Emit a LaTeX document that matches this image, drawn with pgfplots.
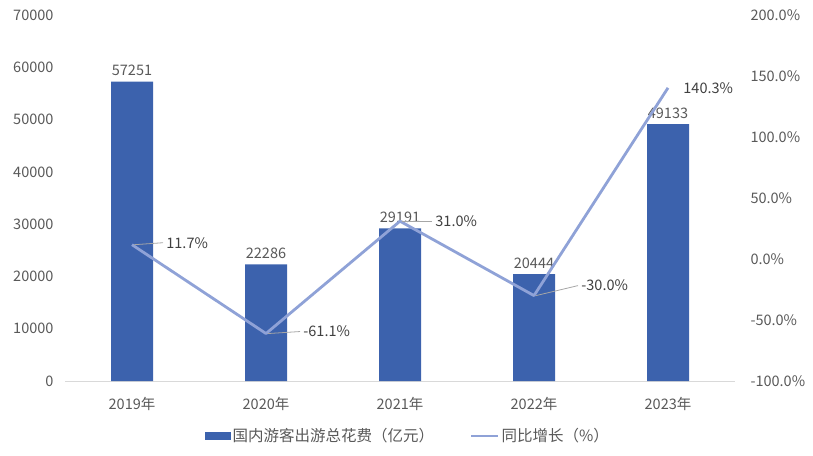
\documentclass[border=0pt]{standalone}
\usepackage{fontspec}
\setmainfont{Noto Sans CJK SC}
\usepackage{pgfplots}
\pgfplotsset{compat=1.18}
\usepackage{pgfplotstable}
\definecolor{barblue}{HTML}{3C62AD}
\definecolor{lineblue}{HTML}{8FA2D7}
\definecolor{txt}{HTML}{595959}
\definecolor{axisgray}{HTML}{D9D9D9}
\definecolor{leader}{HTML}{A6A6A6}

\pgfplotstableread{
x y lab
0 57251 57251
1 22286 22286
2 29191 29191
3 20444 20444
4 49133 49133
}\bars

\pgfplotstableread{
x y lab dx dy lo
0 11.7 11.7\% 31 2 1
1 -61.1 -61.1\% 34 2 1
2 31.0 31.0\% 32 0 1
3 -30.0 -30.0\% 44 10 1
4 140.3 140.3\% 12 0 0
}\growth

\begin{document}
\begin{tikzpicture}[font=\fontsize{14.5}{17}\selectfont]
\useasboundingbox (-65pt,-74pt) rectangle (748pt,381pt);
\begin{axis}[
  scale only axis, width=670pt, height=366pt, at={(0pt,0pt)}, anchor=south west,
  xmin=-0.5, xmax=4.5, ymin=0, ymax=70000,
  xtick={0,1,2,3,4},
  xticklabels={2019年,2020年,2021年,2022年,2023年},
  ytick={0,10000,...,70000},
  scaled y ticks=false,
  /pgf/number format/.cd, 1000 sep={}, assume math mode=true, /pgfplots/.cd,
  axis x line*=bottom, axis y line*=left,
  separate axis lines,
  x axis line style={draw=axisgray, line width=0.8pt, -},
  y axis line style={draw=none},
  major tick length=0pt,
  tick label style={text=txt},
  xticklabel style={yshift=-13pt},
  yticklabel style={xshift=-8pt},
]
\addplot[ybar, bar width=42pt, fill=barblue, draw=none,
  nodes near coords, point meta=explicit symbolic,
  every node near coord/.append style={text=txt, anchor=south, yshift=2pt}]
  table[x=x, y=y, meta=lab]{\bars};
\end{axis}
\begin{axis}[
  scale only axis, width=670pt, height=366pt, at={(0pt,0pt)}, anchor=south west,
  xmin=-0.5, xmax=4.5, ymin=-100, ymax=200,
  ytick={-100,-50,...,200},
  yticklabel={\pgfmathprintnumber[fixed,fixed zerofill,precision=1,assume math mode=true]{\tick}\%},
  axis y line*=right, axis x line=none,
  y axis line style={draw=none},
  major tick length=0pt,
  tick label style={text=txt},
  yticklabel style={xshift=12pt},
  legend columns=2,
  legend style={draw=none, fill=none, at={(0.5,0)}, anchor=center, yshift=-55pt, xshift=8pt,
    text=txt, font=\fontsize{15.5}{18}\selectfont,
    /tikz/every even column/.append style={column sep=34pt}},
]
\addlegendimage{legend image code/.code={\fill[barblue] (0pt,-3.5pt) rectangle (25pt,3.5pt);}}
\addlegendentry{国内游客出游总花费（亿元）}
\addplot[lineblue, line width=2.8pt, line join=round, mark=none,
  legend image code/.code={\draw[lineblue, line width=2.5pt] (0pt,0pt) -- (27pt,0pt);},
  nodes near coords, point meta=explicit symbolic,
  visualization depends on={\thisrow{dx}\as\dx},
  visualization depends on={\thisrow{dy}\as\dy},
  visualization depends on={\thisrow{lo}\as\lo},
  every node near coord/.style={anchor=west, xshift=\dx pt, yshift=\dy pt, text=black!75,
    font=\fontsize{14.5}{17}\selectfont, inner sep=2pt,
    append after command={(\tikzlastnode.west) edge[draw=leader, draw opacity=\lo, line width=0.8pt] ++(-\dx pt+2pt,-\dy pt)}}]
  table[x=x, y=y, meta=lab]{\growth};
\addlegendentry{同比增长（\%）}
\end{axis}
\end{tikzpicture}
\end{document}
